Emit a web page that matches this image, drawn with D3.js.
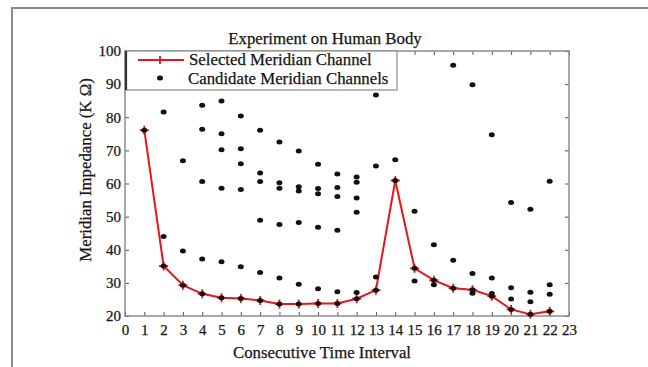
<!DOCTYPE html>
<html>
<head>
<meta charset="utf-8">
<script src="https://cdn.jsdelivr.net/npm/d3@7"></script>
<style>
  body { margin: 0; background: #fff; }
  text { font-family: "Liberation Serif", "Times New Roman", serif; fill: #151515; stroke: #151515; stroke-width: 0.25px; }
</style>
</head>
<body>
<svg id="chart"></svg>
<script>
// Selected meridian channel, time intervals 1..22
const intervals = d3.range(1, 23);
const selected = [76.1, 35.1, 29.3, 26.7, 25.5, 25.3, 24.7, 23.6, 23.6, 23.8, 23.8,
    25.2, 27.8, 60.9, 34.4, 30.8, 28.4, 27.9, 26.0, 22.0, 20.5, 21.4];

// Candidate channels (besides the selected one), per interval
const candidates = [
    [],
    [81.6, 44.0],
    [66.9, 39.6],
    [83.6, 76.4, 60.6, 37.2],
    [84.9, 75.0, 70.2, 58.6, 36.4],
    [80.4, 70.5, 66.0, 58.2, 34.9],
    [76.1, 63.2, 60.6, 48.9, 33.1],
    [72.5, 60.2, 58.6, 47.6, 31.5],
    [69.8, 59.0, 57.7, 48.2, 29.6],
    [65.8, 58.5, 56.9, 46.8, 28.2],
    [62.9, 58.8, 56.1, 45.9, 27.3],
    [62.0, 60.4, 55.6, 51.3, 27.1],
    [86.7, 65.3, 31.8],
    [67.2],
    [51.6, 30.6],
    [41.5, 29.4],
    [95.7, 36.8],
    [89.8, 32.8, 26.9],
    [74.7, 31.5, 26.8],
    [54.3, 28.5, 25.1],
    [52.2, 27.2, 24.3],
    [60.7, 29.4, 26.6]
];

const xTicks = d3.range(0, 24);
const yTicks = [20, 30, 40, 50, 60, 70, 80, 90, 100];

const W = 648, H = 367;
const margin = {top: 51, right: 79, bottom: 51, left: 125};
const width = W - margin.left - margin.right,
    height = H - margin.top - margin.bottom;

const svg = d3.select("#chart").attr("width", W).attr("height", H);

// outer frame
svg.append("rect")
    .attr("x", 12).attr("y", 8)
    .attr("width", 660).attr("height", 400)
    .attr("fill", "none").attr("stroke", "#8a8a8a").attr("stroke-width", 2);

const g = svg.append("g").attr("transform", `translate(${margin.left},${margin.top})`);

const x = d3.scaleLinear().domain([0, 23]).range([0, width]);
const y = d3.scaleLinear().domain([20, 100]).range([height, 0]);

// axes with inward ticks on all sides
function styleAxis(sel) {
    sel.select(".domain").remove();
    sel.selectAll(".tick line").attr("stroke", "#555");
    sel.selectAll(".tick text").style("font-size", "15px");
}
g.append("g").attr("transform", `translate(0,${height})`)
    .call(d3.axisBottom(x).tickValues(xTicks).tickFormat(d3.format("d")).tickSizeInner(-4).tickPadding(8))
    .call(styleAxis);
g.append("g")
    .call(d3.axisLeft(y).tickValues(yTicks).tickSizeInner(-4).tickPadding(4))
    .call(styleAxis);
g.append("g")
    .call(d3.axisTop(x).tickValues(xTicks).tickSizeInner(-4).tickFormat(""))
    .call(styleAxis);
g.append("g").attr("transform", `translate(${width},0)`)
    .call(d3.axisRight(y).tickValues(yTicks).tickSizeInner(-4).tickFormat(""))
    .call(styleAxis);

g.append("rect")
    .attr("width", width).attr("height", height)
    .attr("fill", "none").attr("stroke", "#8c8c8c").attr("stroke-width", 1.5);

// candidate dots
const candPts = [];
candidates.forEach((vals, i) => vals.forEach(v => candPts.push({t: intervals[i], v: v})));
intervals.forEach((t, i) => candPts.push({t: t, v: selected[i]}));

// selected line
const line = d3.line().x((d, i) => x(intervals[i])).y(d => y(d));
g.append("path").datum(selected)
    .attr("fill", "none").attr("stroke", "#e8151b").attr("stroke-width", 2)
    .attr("d", line);

g.selectAll(".sel").data(selected).join("path")
    .attr("class", "sel")
    .attr("transform", (d, i) => `translate(${x(intervals[i])},${y(d)})`)
    .attr("d", "M-4.5,0H4.5M0,-4.5V4.5")
    .attr("stroke", "#e8151b").attr("stroke-width", 1.8);

g.selectAll(".cand").data(candPts).join("ellipse")
    .attr("class", "cand")
    .attr("cx", d => x(d.t)).attr("cy", d => y(d.v))
    .attr("rx", 3).attr("ry", 2.5)
    .attr("fill", "#111");

// legend
const lg = svg.append("g");
lg.append("rect")
    .attr("x", 126).attr("y", 51).attr("width", 271).attr("height", 39)
    .attr("fill", "#fff").attr("stroke", "#8c8c8c").attr("stroke-width", 1.2);
lg.append("line").attr("x1", 126).attr("x2", 126).attr("y1", 51).attr("y2", 90)
    .attr("stroke", "#333").attr("stroke-width", 2.2);
lg.append("line").attr("x1", 138).attr("x2", 184).attr("y1", 60).attr("y2", 60)
    .attr("stroke", "#e8151b").attr("stroke-width", 2);
lg.append("path").attr("transform", "translate(160,60)").attr("d", "M-4,0H4M0,-4V4")
    .attr("stroke", "#e8151b").attr("stroke-width", 1.8);
lg.append("ellipse").attr("cx", 160).attr("cy", 78).attr("rx", 3).attr("ry", 2.5).attr("fill", "#111");
lg.append("text").attr("x", 189).attr("y", 65).style("font-size", "16.8px").text("Selected Meridian Channel");
lg.append("text").attr("x", 188).attr("y", 84).style("font-size", "16.8px").text("Candidate Meridian Channels");

// titles
svg.append("text")
    .attr("x", 325).attr("y", 44).attr("text-anchor", "middle")
    .style("font-size", "16.8px").text("Experiment on Human Body");
svg.append("text")
    .attr("x", 322).attr("y", 358).attr("text-anchor", "middle")
    .style("font-size", "16.8px").text("Consecutive Time Interval");
svg.append("text")
    .attr("transform", "translate(91,170) rotate(-90)").attr("text-anchor", "middle")
    .style("font-size", "16.8px").text("Meridian Impedance (K Ω)");
</script>
</body>
</html>
